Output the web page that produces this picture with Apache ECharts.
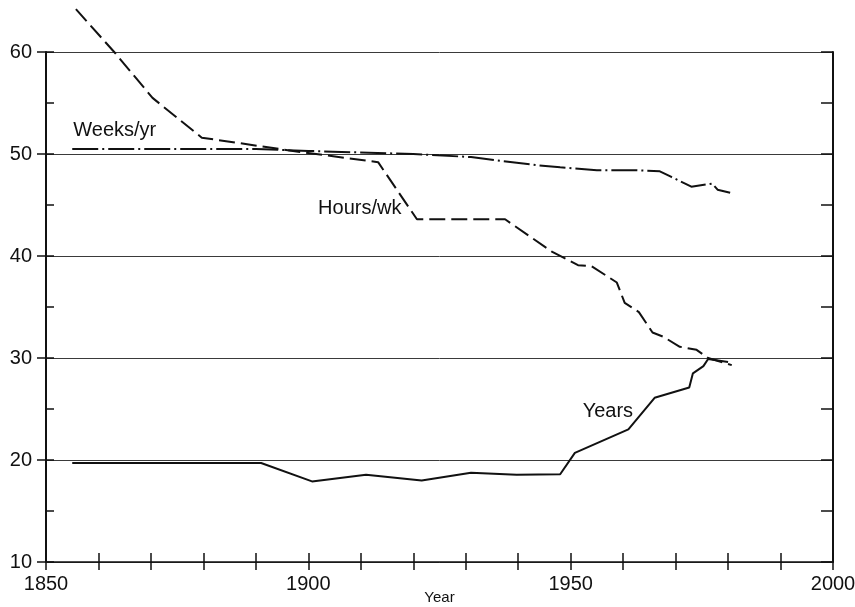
<!DOCTYPE html>
<html>
<head>
<meta charset="utf-8">
<script src="https://cdn.jsdelivr.net/npm/echarts@6/dist/echarts.min.js"></script>
<style>
  html, body { margin: 0; padding: 0; background: #fff; }
  #chart { width: 855px; height: 607px; }
</style>
</head>
<body>
<div id="chart"></div>
<script>
// values
const hoursYears = [1855.7, 1863, 1870.3, 1879.7, 1898.4, 1913.3, 1920.7, 1937.5, 1946.5, 1951.4, 1954, 1958.8, 1960.3, 1963, 1965.6, 1967.6, 1970.8, 1974, 1976.2, 1980.7];
const hoursVals  = [64.2, 60, 55.5, 51.6, 50.2, 49.2, 43.6, 43.6, 40.4, 39.1, 39.0, 37.4, 35.4, 34.5, 32.5, 32.1, 31.1, 30.8, 30.0, 29.3];

const weeksYears = [1855, 1890, 1900, 1920, 1931, 1937, 1943.6, 1948, 1955, 1962.6, 1967, 1969, 1973, 1977, 1978, 1980.4];
const weeksVals  = [50.5, 50.5, 50.3, 50.0, 49.7, 49.3, 48.9, 48.7, 48.4, 48.4, 48.3, 47.8, 46.8, 47.1, 46.5, 46.2];

const yearsYears = [1855, 1891, 1900.7, 1911, 1921.6, 1931, 1939.7, 1948, 1950.8, 1961, 1966, 1972.6, 1973.3, 1975.3, 1976.2, 1980];
const yearsVals  = [19.7, 19.7, 17.9, 18.55, 18.0, 18.75, 18.55, 18.6, 20.7, 23.0, 26.1, 27.1, 28.5, 29.2, 29.9, 29.6];

const xLabels = [1850, 1900, 1950, 2000];
const yLabels = [10, 20, 30, 40, 50, 60];

// line labels, placed in data coordinates
const lineLabels = [
  { text: 'Weeks/yr', x: 1863.1, y: 52.3 },
  { text: 'Hours/wk', x: 1909.8, y: 44.7 },
  { text: 'Years', x: 1957.1, y: 24.8 }
];

const pairs = (xs, ys) => xs.map((x, i) => [x, ys[i]]);
const FONT = 'Liberation Sans';
const INK = '#111';

let chart = echarts.init(document.getElementById('chart'));

let option = {
  animation: false,
  backgroundColor: '#fff',
  grid: { left: 46, right: 22, top: 52, bottom: 45, containLabel: false, outerBoundsMode: 'none' },
  xAxis: [
    {
      type: 'value', min: 1850, max: 2000, interval: 10,
      axisLine: { show: true, lineStyle: { color: INK, width: 1.5 } },
      axisTick: { show: true, inside: false, length: 8, lineStyle: { color: INK, width: 1.5 } },
      axisLabel: {
        margin: 12, fontFamily: FONT, fontSize: 20, color: INK,
        formatter: v => xLabels.indexOf(v) >= 0 ? String(v) : ''
      },
      splitLine: { show: false },
      name: 'Year', nameLocation: 'middle', nameGap: 28, nameMoveOverlap: false,
      nameTextStyle: { fontFamily: FONT, fontSize: 15, color: INK }
    },
    {
      type: 'value', min: 1850, max: 2000, interval: 10, position: 'bottom',
      axisLine: { show: false },
      axisTick: { show: true, inside: true, length: 9, lineStyle: { color: INK, width: 1.5 } },
      axisLabel: { show: false },
      splitLine: { show: false }
    }
  ],
  yAxis: [
    {
      type: 'value', min: 10, max: 60, interval: 10, position: 'left',
      axisLine: { show: true, lineStyle: { color: INK, width: 2 } },
      axisTick: { show: true, inside: false, length: 9, lineStyle: { color: INK, width: 1.5 } },
      axisLabel: {
        margin: 14, fontFamily: FONT, fontSize: 20, color: INK,
        formatter: v => yLabels.indexOf(v) >= 0 ? String(v) : ''
      },
      splitLine: { show: true, lineStyle: { color: '#3a3a3a', width: 1 } }
    },
    {
      type: 'value', min: 10, max: 60, interval: 5, position: 'left',
      axisLine: { show: false },
      axisTick: { show: true, inside: true, length: 8, lineStyle: { color: INK, width: 1.5 } },
      axisLabel: { show: false },
      splitLine: { show: false }
    },
    {
      type: 'value', min: 10, max: 60, interval: 5, position: 'right',
      axisLine: { show: true, lineStyle: { color: INK, width: 2 } },
      axisTick: { show: true, inside: true, length: 12, lineStyle: { color: INK, width: 1.5 } },
      axisLabel: { show: false },
      splitLine: { show: false }
    }
  ],
  series: [
    {
      name: 'Hours/wk', type: 'line', xAxisIndex: 0, yAxisIndex: 0,
      data: pairs(hoursYears, hoursVals),
      showSymbol: false, symbol: 'none', clip: false,
      lineStyle: { color: INK, width: 2, type: [16, 6] }
    },
    {
      name: 'Weeks/yr', type: 'line', xAxisIndex: 0, yAxisIndex: 0,
      data: pairs(weeksYears, weeksVals),
      showSymbol: false, symbol: 'none',
      lineStyle: { color: INK, width: 2, type: [26, 4, 2, 4] }
    },
    {
      name: 'Years', type: 'line', xAxisIndex: 0, yAxisIndex: 0,
      data: pairs(yearsYears, yearsVals),
      showSymbol: false, symbol: 'none',
      lineStyle: { color: INK, width: 2 }
    }
  ]
};

chart.setOption(option);

// put the line names on as text, positioned through the axes
chart.setOption({
  graphic: lineLabels.map(l => {
    const p = chart.convertToPixel({ gridIndex: 0 }, [l.x, l.y]);
    return {
      type: 'text', x: p[0], y: p[1],
      style: {
        text: l.text, fill: INK, font: '20px "' + FONT + '"',
        align: 'center', verticalAlign: 'middle'
      }
    };
  })
});
</script>
</body>
</html>
